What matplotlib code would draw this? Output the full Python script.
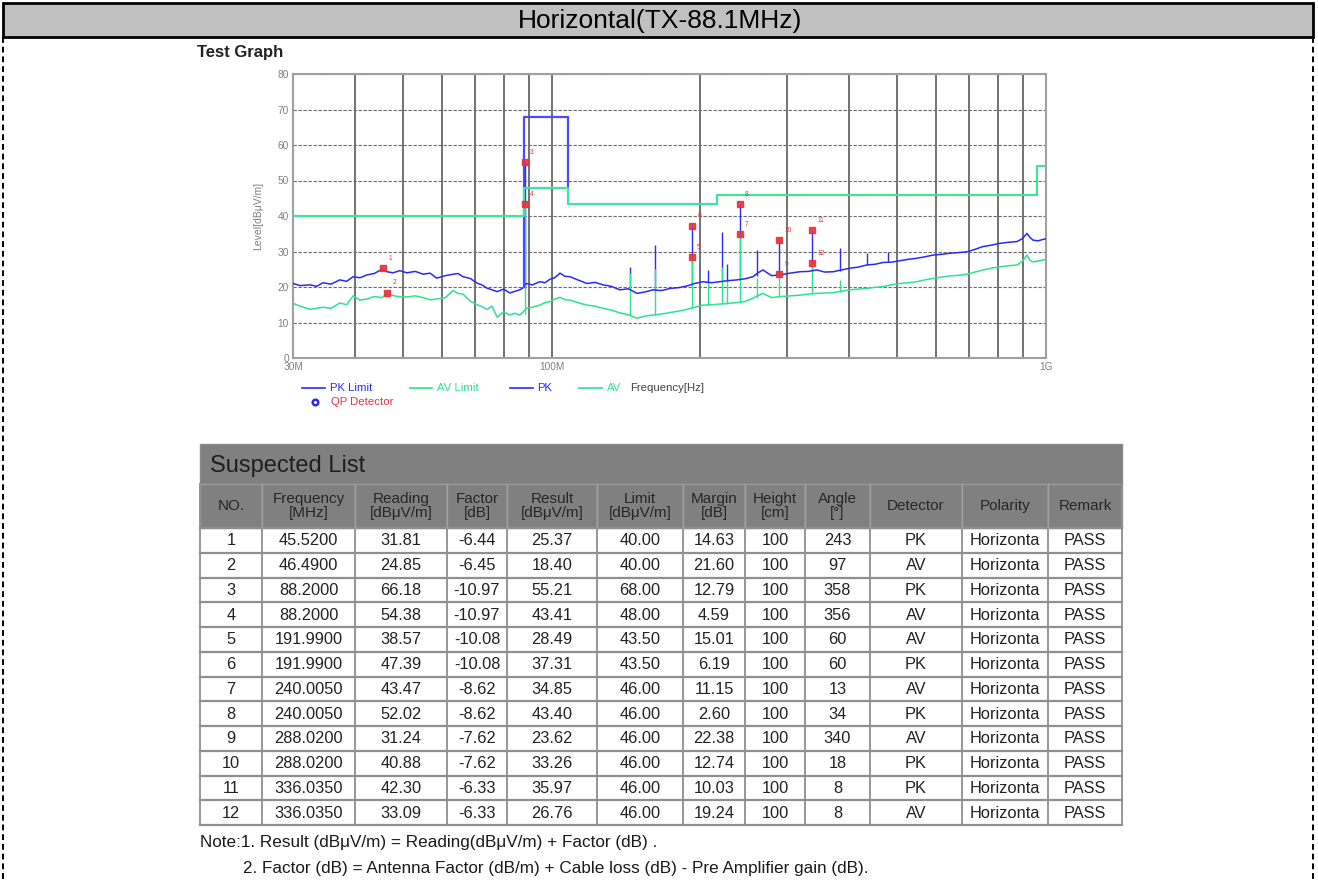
import numpy as np
import matplotlib
matplotlib.use("Agg")
import matplotlib.pyplot as plt
from matplotlib.patches import Rectangle

plt.rcParams['font.family'] = ['Liberation Sans', 'DejaVu Sans']

# ---- spectrum traces (MHz, dBuV/m)
pk_freq = [30.0, 31.0, 32.5, 33.5, 34.5, 35.8, 37.3, 38.5, 39.7, 41.0, 42.3, 43.8, 45.4, 46.5,
           47.8, 49.3, 51.0, 53.0, 55.0, 56.8, 58.6, 61.0, 63.2, 64.7, 66.2, 68.5, 70.7, 72.3,
           74.0, 75.8, 77.6, 80.0, 82.4, 84.3, 86.3, 87.6, 88.9, 91.5, 94.7, 97.0, 99.3, 101.5,
           104.0, 106.5, 109.0, 113.0, 117.9, 122.5, 127.1, 132.0, 137.5, 143.0, 148.9, 154.5,
           160.4, 167.0, 173.6, 180.5, 187.9, 195.0, 202.4, 210.5, 219.1, 228.0, 237.1, 246.0,
           255.5, 261.5, 267.7, 278.5, 289.7, 303.5, 318, 331, 344, 357, 371, 386, 401, 417, 434,
           451, 468, 487, 507, 527, 548, 569, 591, 614, 639, 665, 692, 718, 746, 776, 807, 840,
           874, 895, 915, 928, 941, 963, 986, 1000]
pk_level = [21.0, 20.4, 20.6, 20.2, 21.2, 20.8, 22.0, 21.6, 22.9, 22.6, 23.4, 23.8, 25.0, 24.3,
            24.0, 24.6, 24.0, 24.4, 23.6, 23.9, 22.5, 23.2, 23.6, 23.8, 22.9, 22.4, 21.1, 20.6,
            19.7, 19.2, 18.7, 19.4, 18.3, 18.8, 19.2, 19.8, 21.0, 20.6, 21.5, 21.2, 22.2, 22.6,
            23.9, 23.0, 22.9, 22.0, 21.0, 21.3, 20.6, 20.2, 19.2, 19.5, 18.2, 18.6,
            19.2, 19.0, 19.6, 19.8, 20.3, 21.0, 21.5, 21.2, 21.5, 21.8, 22.0, 22.3,
            22.9, 24.0, 24.8, 23.2, 23.4, 23.9, 24.3, 24.4, 24.8, 24.2, 24.3, 24.8, 25.3, 25.6, 26.2,
            26.4, 26.9, 27.0, 27.4, 27.8, 28.1, 28.5, 29.0, 29.2, 29.5, 29.7, 29.9, 30.6, 31.4, 31.8,
            32.3, 32.6, 32.8, 33.6, 35.1, 34.0, 33.2, 33.0, 33.4, 33.6]
av_level = [15.4, 14.6, 13.7, 14.0, 14.3, 14.0, 15.5, 15.0, 17.5, 16.3, 16.6, 17.3, 17.0, 18.0,
            17.6, 17.2, 17.2, 17.5, 17.0, 16.4, 16.6, 17.0, 19.0, 18.2, 18.0, 16.0, 15.0, 14.5,
            13.7, 14.6, 11.5, 13.0, 12.1, 12.6, 12.1, 13.0, 14.0, 14.3, 14.9, 15.6, 15.9, 16.6,
            17.1, 16.4, 16.3, 15.6, 14.9, 14.6, 14.0, 13.5, 12.7, 12.2, 11.2, 11.8,
            12.1, 12.4, 12.8, 13.2, 13.7, 14.3, 14.9, 15.0, 15.2, 15.4, 15.6, 15.9,
            16.8, 17.6, 18.2, 17.0, 17.3, 17.5, 17.7, 18.0, 18.2, 18.3, 18.4, 18.8, 19.2, 19.4, 19.6,
            19.9, 20.1, 20.6, 21.0, 21.2, 21.5, 22.0, 22.4, 22.8, 23.1, 23.3, 23.6, 24.2, 24.8, 25.3,
            25.7, 26.0, 26.2, 27.2, 29.0, 27.5, 27.1, 27.3, 27.6, 27.8]

# narrow emission spikes: freq, base, top
pk_spk_freq = [88.2, 144, 162, 192, 207, 221, 226, 240, 260, 288, 336, 383, 434, 479]
pk_spk_base = [20.0, 19.4, 19.2, 20.8, 21.2, 21.5, 21.6, 22.0, 23.0, 23.4, 24.7, 24.6, 26.2, 27.0]
pk_spk_top = [55.2, 25.7, 31.8, 37.3, 24.8, 35.6, 26.5, 43.4, 30.4, 33.3, 36.0, 30.9, 29.6, 29.9]
av_spk_freq = [88.2, 144, 162, 192, 207, 221, 226, 240, 260, 288, 336, 383]
av_spk_base = [12.5, 12.2, 12.1, 14.2, 14.9, 15.2, 15.3, 15.6, 16.9, 17.3, 18.1, 18.6]
av_spk_top = [43.4, 24.0, 25.0, 28.5, 21.0, 25.5, 22.0, 34.9, 22.5, 23.6, 26.8, 22.0]

# limits
pk_lim_freq = [88, 88, 108, 108]
pk_lim_level = [20, 68, 68, 48]
av_lim_freq = [30, 88, 88, 108, 108, 216, 216, 960, 960, 1000]
av_lim_level = [40, 40, 48, 48, 43.5, 43.5, 46, 46, 54, 54]

# ---- suspected list
no = list(range(1, 13))
freq = [45.52, 46.49, 88.2, 88.2, 191.99, 191.99, 240.005, 240.005, 288.02, 288.02, 336.035, 336.035]
reading = [31.81, 24.85, 66.18, 54.38, 38.57, 47.39, 43.47, 52.02, 31.24, 40.88, 42.30, 33.09]
factor = [-6.44, -6.45, -10.97, -10.97, -10.08, -10.08, -8.62, -8.62, -7.62, -7.62, -6.33, -6.33]
result = [25.37, 18.40, 55.21, 43.41, 28.49, 37.31, 34.85, 43.40, 23.62, 33.26, 35.97, 26.76]
limit = [40, 40, 68, 48, 43.5, 43.5, 46, 46, 46, 46, 46, 46]
margin = [14.63, 21.60, 12.79, 4.59, 15.01, 6.19, 11.15, 2.60, 22.38, 12.74, 10.03, 19.24]
height = [100] * 12
angle = [243, 97, 358, 356, 60, 60, 13, 34, 340, 18, 8, 8]
detector = ['PK', 'AV', 'PK', 'AV', 'AV', 'PK', 'AV', 'PK', 'AV', 'PK', 'PK', 'AV']
polarity = ['Horizonta'] * 12
remark = ['PASS'] * 12
headers = ['NO.', 'Frequency\n[MHz]', 'Reading\n[dB\u03bcV/m]', 'Factor\n[dB]', 'Result\n[dB\u03bcV/m]',
           'Limit\n[dB\u03bcV/m]', 'Margin\n[dB]', 'Height\n[cm]', 'Angle\n[\u00b0]', 'Detector',
           'Polarity', 'Remark']

BLUE = '#2a2aff'
GREEN = '#2ee38e'
RED = '#e8323c'

W, H = 1318, 882
fig = plt.figure(figsize=(W / 100, H / 100), dpi=100)

# page overlay in pixel coordinates
pg = fig.add_axes([0, 0, 1, 1])
pg.set_xlim(0, W)
pg.set_ylim(H, 0)
pg.axis('off')

pg.add_patch(Rectangle((3, 3), 1310, 34, fc='#c0c0c0', ec='black', lw=2))
pg.text(660, 21, 'Horizontal(TX-88.1MHz)', ha='center', va='center', fontsize=19)
pg.plot([3, 3], [37, H], color='black', lw=1.4, ls=(0, (3, 2)))
pg.plot([1313, 1313], [37, H], color='black', lw=1.4, ls=(0, (3, 2)))
pg.text(197, 53, 'Test Graph', fontsize=12, weight='bold', va='center', color='#222')

# legend under the graph
leg = [(302, 325, 330, 'PK Limit', BLUE), (410, 432, 437, 'AV Limit', GREEN),
       (510, 533, 537, 'PK', BLUE), (579, 602, 607, 'AV', GREEN)]
for x0, x1, xt, lab, c in leg:
    pg.plot([x0, x1], [388, 388], color=c, lw=1.2)
    pg.text(xt, 388, lab, color=c, fontsize=8.2, va='center')
pg.text(630, 388, 'Frequency[Hz]', color='#444', fontsize=8.2, va='center')
pg.plot([315], [402], 'o', ms=4, mfc='none', mec=BLUE, mew=1.8)
pg.text(331, 402, 'QP Detector', color=RED, fontsize=8.2, va='center')

# table
edges = [200, 262, 355, 447, 507, 597, 683, 745, 805, 870, 962, 1048, 1122]
top, hdr, row0, rh = 444, 484, 528, 24.75
pg.add_patch(Rectangle((200, top), 922, hdr - top, fc='#808080', ec='#8a8a8a', lw=1))
pg.text(210, 466, 'Suspected List', fontsize=17, color='#1e1e1e', va='center')
pg.add_patch(Rectangle((200, hdr), 922, row0 - hdr, fc='#808080', ec='#9a9a9a', lw=1))
for i, h in enumerate(headers):
    pg.text((edges[i] + edges[i + 1]) / 2, (hdr + row0) / 2, h, ha='center', va='center',
            fontsize=11, color='#262626', linespacing=0.95)
rows = list(zip(no, freq, reading, factor, result, limit, margin, height, angle,
                detector, polarity, remark))
fmts = ['{}', '{:.4f}', '{:.2f}', '{:.2f}', '{:.2f}', '{:.2f}', '{:.2f}', '{}', '{}', '{}', '{}', '{}']
for r, vals in enumerate(rows):
    yc = row0 + rh * (r + 0.5)
    for c, v in enumerate(vals):
        pg.text((edges[c] + edges[c + 1]) / 2, yc + 0.5, fmts[c].format(v), ha='center',
                va='center', fontsize=11.8, color='#222')
bottom = row0 + rh * len(rows)
for r in range(len(rows) + 1):
    pg.plot([200, 1122], [row0 + rh * r] * 2, color='#8f8f8f', lw=1.6)
for e in edges:
    pg.plot([e, e], [hdr, bottom], color='#8f8f8f', lw=1.3)
for e in edges[1:-1]:
    pg.plot([e, e], [hdr, row0], color='#a0a0a0', lw=1.0)

pg.text(200, 842, 'Note:1. Result (dB\u03bcV/m) = Reading(dB\u03bcV/m) + Factor (dB) .', fontsize=12.3,
        va='center', color='#1a1a1a')
pg.text(243, 869, '2. Factor (dB) = Antenna Factor (dB/m) + Cable loss (dB) - Pre Amplifier gain (dB).',
        fontsize=12.3, va='center', color='#1a1a1a')

# ---- test graph
ax = fig.add_axes([293 / W, 1 - 358 / H, (1046 - 293) / W, (358 - 74) / H])
ax.set_xscale('log')
ax.set_xlim(30, 1000)
ax.set_ylim(0, 80)
ax.set_xticks([30, 100, 1000])
ax.set_xticklabels(['30M', '100M', '1G'])
ax.set_xticks([40, 50, 60, 70, 80, 90, 200, 300, 400, 500, 600, 700, 800, 900], minor=True)
ax.xaxis.set_minor_formatter(plt.NullFormatter())
ax.set_yticks(range(0, 81, 10))
ax.tick_params(which='both', length=0, labelsize=7.3, labelcolor='#808080', pad=3)
ax.grid(True, axis='x', which='both', color='#5a5a5a', lw=1.2)
ax.grid(True, axis='y', which='major', color='#6a6a6a', lw=0.8, ls=(0, (3, 1.5)))
for s in ax.spines.values():
    s.set_color('#a0a0a0')
    s.set_linewidth(1.5)
ax.set_ylabel('Level[dB\u03bcV/m]', fontsize=7.5, color='#808080', labelpad=10)

ax.plot(pk_freq, av_level, color=GREEN, lw=1.1, zorder=3)
ax.vlines(av_spk_freq, av_spk_base, av_spk_top, color=GREEN, lw=1.0, zorder=3)
ax.plot(pk_freq, pk_level, color=BLUE, lw=1.1, zorder=4)
ax.vlines(pk_spk_freq, pk_spk_base, pk_spk_top, color=BLUE, lw=1.0, zorder=2)
ax.plot(pk_lim_freq, pk_lim_level, color='#4a4aff', lw=1.6, zorder=5)
ax.plot(av_lim_freq, av_lim_level, color='#40e39c', lw=1.6, zorder=5)
ax.plot(freq, result, 's', color=RED, ms=5, alpha=0.9, zorder=6)
for n, f, v in zip(no, freq, result):
    ax.annotate(str(n), (f, v), xytext=(4, 6), textcoords='offset points', fontsize=4.8,
                color=RED, zorder=7)

fig.savefig('out.png', dpi=100)
